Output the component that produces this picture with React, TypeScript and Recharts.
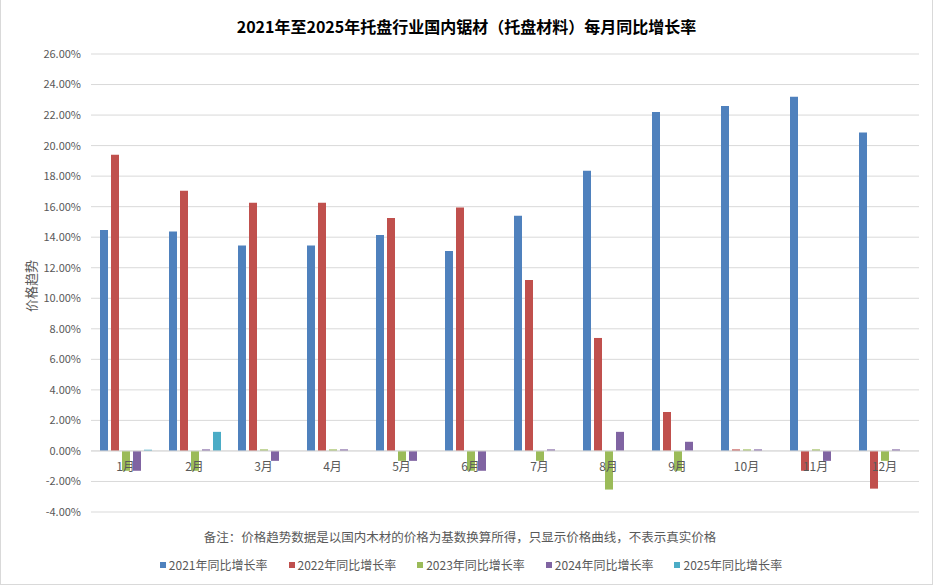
import React from "react";
import {
  BarChart,
  Bar,
  XAxis,
  YAxis,
  CartesianGrid,
  Legend,
  ReferenceLine,
} from "recharts";

const months = ["1月", "2月", "3月", "4月", "5月", "6月", "7月", "8月", "9月", "10月", "11月", "12月"];
const growth2021 = [14.47, 14.38, 13.45, 13.45, 14.15, 13.1, 15.4, 18.35, 22.2, 22.6, 23.2, 20.85];
const growth2022 = [19.4, 17.05, 16.25, 16.25, 15.25, 15.95, 11.2, 7.4, 2.55, 0.1, -1.3, -2.47];
const growth2023 = [-1.3, -1.3, 0.1, 0.1, -0.65, -1.3, -0.65, -2.53, -1.3, 0.1, 0.1, -0.65];
const growth2024 = [-1.3, 0.1, -0.65, 0.1, -0.65, -1.3, 0.1, 1.25, 0.6, 0.1, -0.65, 0.1];
const growth2025: (number | null)[] = [0.08, 1.25, null, null, null, null, null, null, null, null, null, null];
const yTicks = [-4, -2, 0, 2, 4, 6, 8, 10, 12, 14, 16, 18, 20, 22, 24, 26];

const series = [
  { key: "y2021", name: "2021年同比增长率", color: "#4f81bd" },
  { key: "y2022", name: "2022年同比增长率", color: "#c0504d" },
  { key: "y2023", name: "2023年同比增长率", color: "#9bbb59" },
  { key: "y2024", name: "2024年同比增长率", color: "#8064a2" },
  { key: "y2025", name: "2025年同比增长率", color: "#4bacc6" },
];

const data = months.map((m, i) => ({
  month: m,
  y2021: growth2021[i],
  y2022: growth2022[i],
  y2023: growth2023[i],
  y2024: growth2024[i],
  y2025: growth2025[i],
}));

const FONT = '"Noto Sans CJK SC", "Microsoft YaHei", sans-serif';
const Y_MIN = -4;
const Y_MAX = 26;
const TOP = 54;
const PLOT_H = 458;

// month labels sit just under the zero line, like the original
const MonthTick = (props: any) => {
  const { x, y, payload } = props;
  const zeroShift = (PLOT_H * (0 - Y_MIN)) / (Y_MAX - Y_MIN);
  return (
    <text
      x={x}
      y={y - zeroShift + 20}
      textAnchor="middle"
      fill="#595959"
      fontSize={12}
      fontFamily={FONT}
    >
      {payload.value}
    </text>
  );
};

const AxisTitle = (props: any) => {
  const { viewBox } = props;
  const cx = 29;
  const cy = viewBox.y + viewBox.height / 2 + 3;
  return (
    <text
      x={cx}
      y={cy}
      transform={`rotate(-90, ${cx}, ${cy})`}
      textAnchor="middle"
      dominantBaseline="central"
      fill="#595959"
      fontSize={13}
      fontFamily={FONT}
    >
      价格趋势
    </text>
  );
};

const LegendBlock = () => (
  <div style={{ height: 68, fontFamily: FONT, color: "#595959" }}>
    <div style={{ textAlign: "center", fontSize: 12.5, lineHeight: "18px", paddingTop: 15 }}>
      备注：价格趋势数据是以国内木材的价格为基数换算所得，只显示价格曲线，不表示真实价格
    </div>
    <div
      style={{
        display: "flex",
        justifyContent: "center",
        gap: 21,
        fontSize: 12,
        marginTop: 10,
        paddingLeft: 22,
      }}
    >
      {series.map((s) => (
        <span key={s.key} style={{ display: "flex", alignItems: "center", gap: 3 }}>
          <span style={{ width: 6, height: 6, background: s.color, display: "inline-block" }} />
          {s.name}
        </span>
      ))}
    </div>
  </div>
);

export default function App() {
  return (
    <div
      style={{
        position: "fixed",
        left: 0,
        top: 0,
        width: 931,
        height: 584,
        border: "1px solid #d9d9d9",
        borderTop: "none",
        background: "#fff",
        fontFamily: FONT,
      }}
    >
      <div
        style={{
          position: "absolute",
          top: 14,
          left: 0,
          width: "100%",
          textAlign: "center",
          fontSize: 16,
          fontWeight: "bold",
          color: "#000",
        }}
      >
        2021年至2025年托盘行业国内锯材（托盘材料）每月同比增长率
      </div>
      <BarChart
        width={931}
        height={585}
        data={data}
        margin={{ top: TOP, right: 13, left: 0, bottom: 4 }}
        barSize={8}
        barGap={3}
        barCategoryGap={17}
        style={{ outline: "none" }}
      >
        <CartesianGrid vertical={false} stroke="#d9d9d9" />
        <XAxis
          dataKey="month"
          height={1}
          axisLine={false}
          tickLine={false}
          tickSize={0}
          tickMargin={0}
          interval={0}
          tick={<MonthTick />}
        />
        <YAxis
          width={90}
          domain={[Y_MIN, Y_MAX]}
          ticks={yTicks}
          interval={0}
          axisLine={false}
          tickLine={false}
          tickSize={0}
          tickMargin={10}
          tick={{ fill: "#595959", fontSize: 11, fontFamily: FONT }}
          tickFormatter={(v: number) => v.toFixed(2) + "%"}
          label={<AxisTitle />}
        />
        <ReferenceLine y={0} stroke="#d9d9d9" />
        {series.map((s) => (
          <Bar
            key={s.key}
            dataKey={s.key}
            name={s.name}
            fill={s.color}
            isAnimationActive={false}
          />
        ))}
        <Legend verticalAlign="bottom" content={<LegendBlock />} />
      </BarChart>
    </div>
  );
}
